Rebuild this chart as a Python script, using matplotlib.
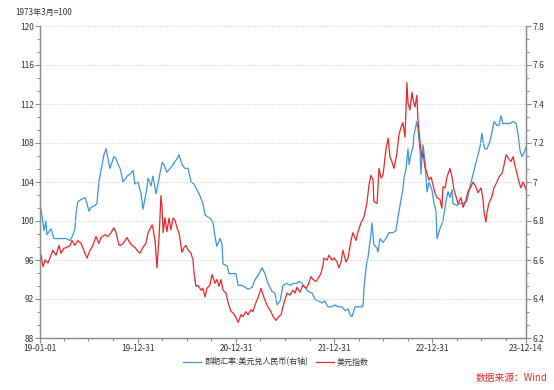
import matplotlib

matplotlib.use("Agg")
import matplotlib.dates as mdates
import matplotlib.pyplot as plt
import pandas as pd
from matplotlib.ticker import FormatStrFormatter, FuncFormatter, MultipleLocator

plt.rcParams["font.family"] = ["Noto Sans CJK SC", "DejaVu Sans"]

START = pd.Timestamp("2019-01-01")
END = pd.Timestamp("2023-12-14")

# days since 2019-01-01
cny_days = [4, 15, 22, 26, 41, 52, 67, 86, 97, 112, 123, 130, 134, 141, 153, 167, 175, 182, 190, 205,
            212, 219, 227, 238, 246, 253, 260, 275, 283, 290, 298, 309, 324, 335, 346, 353, 365, 376, 383, 398,
            402, 413, 420, 432, 443, 454, 461, 472, 484, 495, 510, 517, 528, 539, 551, 562, 573, 584, 595, 606,
            614, 625, 636, 644, 651, 658, 670, 677, 681, 696, 703, 718, 729, 737, 751, 763, 774, 789, 800, 811,
            826, 837, 848, 863, 874, 882, 893, 904, 919, 930, 941, 956, 963, 975, 986, 997, 1012, 1023, 1034, 1049,
            1060, 1071, 1086, 1097, 1109, 1123, 1135, 1146, 1153, 1161, 1172, 1183, 1198, 1202, 1205, 1209, 1216, 1220, 1231, 1235,
            1242, 1254, 1257, 1265, 1276, 1287, 1298, 1313, 1324, 1332, 1343, 1350, 1354, 1362, 1369, 1373, 1380, 1388, 1391, 1399,
            1402, 1406, 1414, 1417, 1421, 1425, 1432, 1440, 1447, 1458, 1466, 1473, 1477, 1488, 1499, 1510, 1518, 1525, 1533, 1536,
            1551, 1562, 1574, 1588, 1600, 1611, 1626, 1637, 1644, 1648, 1655, 1663, 1674, 1685, 1689, 1700, 1707, 1715, 1722, 1737,
            1748, 1760, 1771, 1778, 1786, 1793, 1797, 1804, 1808]
cny_values = [6.86, 6.75, 6.80, 6.73, 6.76, 6.71, 6.71, 6.71, 6.71, 6.70, 6.73, 6.76, 6.84, 6.90, 6.91, 6.92, 6.89, 6.85, 6.87, 6.88,
              6.89, 7.00, 7.06, 7.14, 7.17, 7.12, 7.07, 7.13, 7.12, 7.09, 7.07, 7.00, 7.03, 7.04, 7.06, 6.99, 7.00, 6.94, 6.86, 6.97,
              7.02, 6.98, 7.03, 6.94, 7.02, 7.10, 7.09, 7.05, 7.07, 7.09, 7.12, 7.14, 7.09, 7.07, 7.07, 7.00, 6.99, 6.96, 6.93, 6.89,
              6.83, 6.82, 6.81, 6.79, 6.72, 6.67, 6.71, 6.68, 6.58, 6.57, 6.53, 6.53, 6.53, 6.47, 6.47, 6.46, 6.45, 6.46, 6.50, 6.52,
              6.56, 6.53, 6.48, 6.44, 6.43, 6.37, 6.39, 6.47, 6.48, 6.47, 6.48, 6.48, 6.49, 6.48, 6.46, 6.44, 6.43, 6.40, 6.39, 6.38,
              6.39, 6.36, 6.36, 6.37, 6.36, 6.36, 6.34, 6.35, 6.32, 6.31, 6.36, 6.36, 6.36, 6.37, 6.45, 6.51, 6.59, 6.61, 6.73, 6.79,
              6.68, 6.66, 6.64, 6.71, 6.69, 6.71, 6.74, 6.74, 6.75, 6.82, 6.91, 6.96, 7.02, 7.07, 7.17, 7.09, 7.14, 7.18, 7.24, 7.29,
              7.31, 7.27, 7.16, 7.04, 7.12, 7.19, 7.11, 6.95, 7.00, 6.96, 6.89, 6.85, 6.71, 6.76, 6.80, 6.90, 6.95, 6.92, 6.96, 6.89,
              6.88, 6.89, 6.89, 6.90, 6.98, 7.04, 7.12, 7.18, 7.25, 7.21, 7.17, 7.17, 7.21, 7.28, 7.31, 7.29, 7.29, 7.34, 7.30, 7.30,
              7.30, 7.31, 7.30, 7.25, 7.16, 7.13, 7.14, 7.16, 7.18]

dxy_days = [4, 11, 19, 30, 41, 48, 60, 71, 78, 89, 100, 112, 119, 130, 141, 153, 167, 175, 186, 197,
            208, 219, 227, 242, 253, 264, 275, 283, 294, 298, 309, 324, 331, 342, 353, 361, 372, 383, 394, 402,
            417, 420, 428, 435, 443, 450, 454, 458, 465, 472, 480, 487, 495, 502, 510, 517, 528, 536, 543, 551,
            562, 569, 573, 580, 588, 599, 606, 614, 621, 632, 640, 651, 658, 666, 673, 681, 692, 699, 711, 718,
            729, 737, 748, 755, 766, 774, 785, 792, 804, 811, 822, 830, 841, 848, 859, 867, 878, 885, 897, 904,
            911, 919, 930, 941, 949, 956, 967, 978, 990, 997, 1008, 1016, 1027, 1034, 1045, 1053, 1056, 1068, 1075, 1086,
            1094, 1105, 1112, 1120, 1127, 1138, 1146, 1157, 1164, 1176, 1183, 1194, 1205, 1216, 1224, 1231, 1239, 1242, 1254, 1261,
            1269, 1276, 1287, 1295, 1302, 1309, 1317, 1328, 1335, 1343, 1350, 1358, 1365, 1369, 1376, 1384, 1388, 1395, 1402, 1406,
            1414, 1421, 1425, 1432, 1440, 1447, 1455, 1462, 1469, 1477, 1488, 1495, 1499, 1507, 1514, 1525, 1533, 1540, 1548, 1555,
            1566, 1574, 1585, 1592, 1603, 1611, 1622, 1629, 1641, 1648, 1652, 1659, 1663, 1670, 1681, 1689, 1700, 1707, 1719, 1726,
            1734, 1741, 1752, 1760, 1767, 1774, 1782, 1789, 1797, 1804, 1808]
dxy_values = [96.5, 95.3, 96.0, 95.7, 96.5, 97.0, 96.5, 97.5, 96.7, 97.2, 97.3, 97.5, 98.0, 97.5, 98.0, 97.7, 96.7, 96.2, 97.0, 97.5,
              98.4, 97.7, 98.3, 98.6, 98.4, 98.8, 99.3, 98.8, 97.5, 97.5, 97.7, 98.3, 97.9, 97.5, 97.3, 97.0, 96.7, 97.3, 97.7, 98.8,
              99.6, 99.3, 98.0, 95.2, 98.4, 102.6, 101.4, 98.8, 100.3, 98.9, 100.3, 99.1, 100.3, 100.1, 99.3, 98.8, 96.8, 97.3, 97.5, 97.0,
              96.7, 96.0, 94.7, 93.3, 93.4, 92.9, 93.1, 92.2, 93.1, 93.4, 94.5, 93.6, 94.0, 93.3, 94.0, 92.9, 92.6, 91.7, 90.7, 90.6,
              90.1, 89.6, 90.4, 90.2, 90.7, 90.4, 90.9, 90.7, 91.7, 92.1, 93.1, 92.4, 91.6, 91.2, 90.7, 90.2, 89.8, 90.1, 90.4, 91.2,
              91.9, 92.6, 92.4, 92.9, 92.6, 93.2, 92.7, 93.4, 93.1, 93.4, 94.3, 94.0, 93.8, 94.1, 94.6, 95.5, 96.2, 96.0, 96.5, 96.0,
              96.2, 95.8, 95.2, 95.8, 97.0, 95.8, 96.2, 98.0, 98.8, 98.0, 98.9, 99.8, 100.4, 101.8, 103.7, 104.7, 104.2, 102.0, 101.8, 105.4,
              104.4, 104.7, 107.3, 108.5, 106.6, 106.1, 105.4, 107.0, 108.8, 109.6, 110.1, 108.6, 114.2, 112.1, 111.4, 113.2, 112.4, 111.7, 112.9, 110.4,
              108.0, 106.5, 107.0, 105.5, 104.9, 104.2, 104.5, 103.7, 102.9, 102.4, 102.2, 101.3, 103.5, 103.4, 104.5, 105.4, 104.5, 103.2, 102.5, 101.8,
              102.4, 101.4, 102.2, 103.0, 103.5, 104.0, 103.5, 102.9, 103.4, 102.2, 100.9, 99.9, 100.9, 101.8, 102.5, 103.4, 104.0, 104.5, 104.9, 105.7,
              106.8, 106.5, 106.1, 106.6, 105.7, 104.9, 104.0, 103.4, 104.0, 103.5, 103.2]

x_tick_dates = ["2019-01-01", "2019-12-31", "2020-12-31", "2021-12-31", "2022-12-31", "2023-12-14"]
x_minor_dates = ["2019-03-31", "2019-06-30", "2019-09-30",
                 "2020-03-31", "2020-06-30", "2020-09-30",
                 "2021-03-31", "2021-06-30", "2021-09-30",
                 "2022-03-31", "2022-06-30", "2022-09-30",
                 "2023-03-31", "2023-06-30", "2023-09-30"]

BLUE = "#3a96db"
RED = "#e8262b"
AXIS = "#8c8c8c"
TEXT = "#333333"

cny_dates = START + pd.to_timedelta(cny_days, unit="D")
dxy_dates = START + pd.to_timedelta(dxy_days, unit="D")

fig = plt.figure(figsize=(5.54, 3.90), dpi=100)
ax = fig.add_axes([40 / 554, 1 - 338 / 390, 486 / 554, 312 / 390])
ax_r = ax.twinx()

(red_line,) = ax.plot(dxy_dates, dxy_values, color=RED, linewidth=0.9, label="美元指数")
(blue_line,) = ax_r.plot(cny_dates, cny_values, color=BLUE, linewidth=0.9,
                         label="即期汇率:美元兑人民币(右轴)")
ax.set_zorder(ax_r.get_zorder() + 1)
ax.patch.set_visible(False)

ax.set_xlim(START, END)
ax.set_ylim(88, 120)
ax_r.set_ylim(6.2, 7.8)

ax.yaxis.set_major_locator(MultipleLocator(4))
ax.yaxis.set_minor_locator(MultipleLocator(4 / 3))
ax_r.yaxis.set_major_locator(MultipleLocator(0.2))
ax_r.yaxis.set_minor_locator(MultipleLocator(0.2 / 3))
ax_r.yaxis.set_major_formatter(FuncFormatter(lambda v, _: f"{v:g}" if abs(v - round(v)) > 1e-6 else f"{int(round(v))}"))
ax.yaxis.set_major_formatter(FormatStrFormatter("%d"))

ax.set_xticks(pd.to_datetime(x_tick_dates))
ax.set_xticks(pd.to_datetime(x_minor_dates), minor=True)
ax.xaxis.set_major_formatter(mdates.DateFormatter("%y-%m-%d"))

ax.grid(axis="y", which="major", color="#d6d6d6", linestyle=(0, (1.5, 2)), linewidth=0.7)
ax.set_axisbelow(True)

for a in (ax, ax_r):
    a.spines["top"].set_visible(False)
    for side in ("left", "right", "bottom"):
        a.spines[side].set_color(AXIS)
        a.spines[side].set_linewidth(0.9)
    a.tick_params(which="major", direction="out", length=3.5, width=0.8, color=AXIS,
                  labelsize=6, labelcolor=TEXT, pad=1)
    a.tick_params(which="minor", direction="out", length=2.5, width=0.8, color=AXIS)

fig.text(15 / 554, 1 - 12 / 390, "1973年3月=100", fontsize=5.8, color=TEXT, va="center", ha="left")

fig.legend(handles=[blue_line, red_line], loc="center", bbox_to_anchor=(276 / 554, 1 - 362 / 390),
           ncol=2, frameon=False, fontsize=5.8, handlelength=2.2, handletextpad=0.4,
           columnspacing=1.0, labelcolor=TEXT)

fig.text(548 / 554, 1 - 378 / 390, "数据来源：Wind", fontsize=7, color=RED, ha="right", va="center")

fig.savefig("out.png", dpi=100)
